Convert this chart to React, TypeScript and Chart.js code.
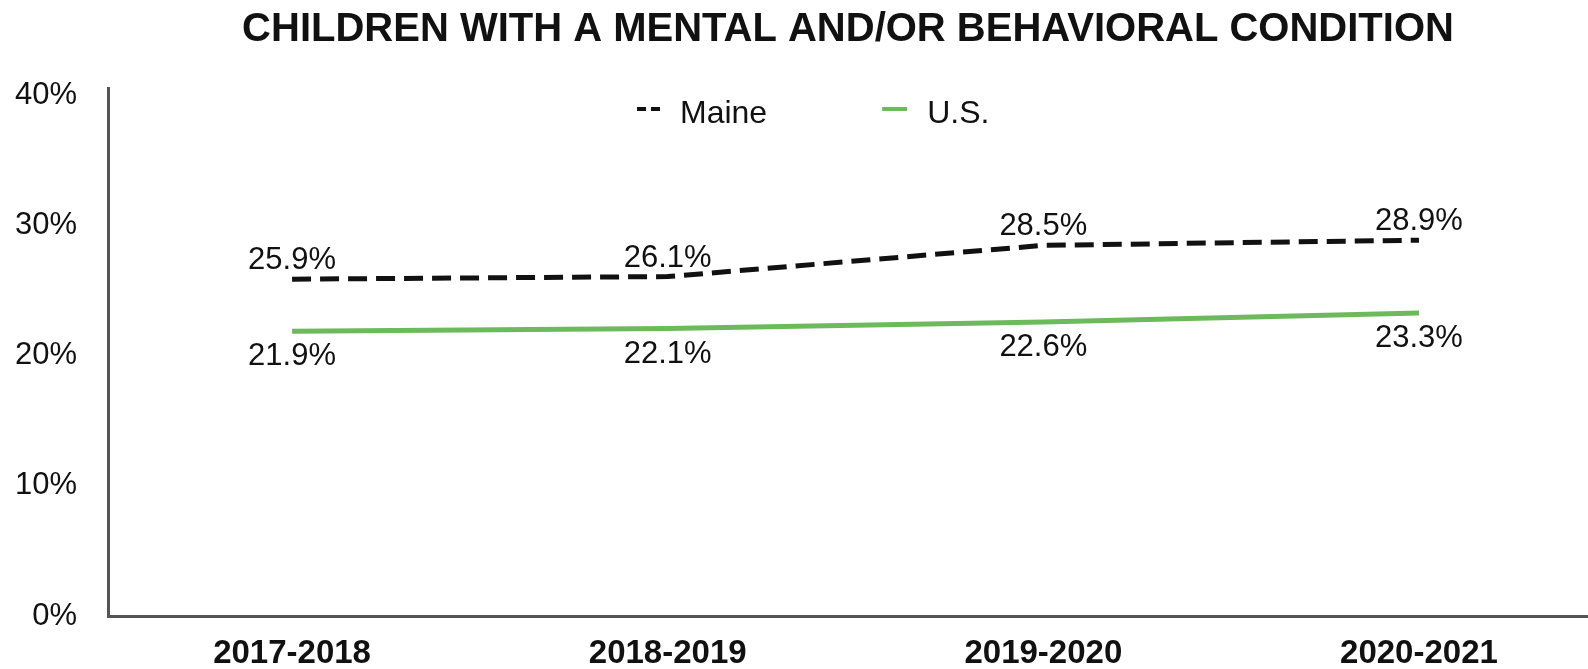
import { useEffect, useRef } from 'react';
import { Chart, registerables } from 'chart.js';

Chart.register(...registerables);

const categories = ['2017-2018', '2018-2019', '2019-2020', '2020-2021'];
const maineValues = [25.9, 26.1, 28.5, 28.9];
const usValues = [21.9, 22.1, 22.6, 23.3];
const yTickValues = [0, 10, 20, 30, 40];
const seriesNames = ['Maine', 'U.S.'];
const titleText = 'CHILDREN WITH A MENTAL AND/OR BEHAVIORAL CONDITION';

const BLACK = '#111111';
const GREEN = '#6cba5c';
const AXIS = '#555555';
const SANS = '"Liberation Sans", Arial, sans-serif';

const valueLabels = {
  id: 'valueLabels',
  afterDatasetsDraw(chart: any) {
    const ctx = chart.ctx;
    ctx.save();
    ctx.font = `31px ${SANS}`;
    ctx.fillStyle = BLACK;
    ctx.textAlign = 'center';
    ctx.textBaseline = 'alphabetic';
    chart.data.datasets.forEach((ds: any, di: number) => {
      const meta = chart.getDatasetMeta(di);
      const above = di === 0;
      meta.data.forEach((pt: any, i: number) => {
        const v = ds.data[i].y;
        ctx.fillText(v.toFixed(1) + '%', pt.x, above ? pt.y - 10 : pt.y + 34);
      });
    });
    ctx.restore();
  },
};

const inlineLegend = {
  id: 'inlineLegend',
  afterDraw(chart: any) {
    const { ctx, chartArea } = chart;
    ctx.save();
    ctx.font = `32px ${SANS}`;
    ctx.textBaseline = 'alphabetic';
    ctx.textAlign = 'left';
    const markerY = chartArea.top + 21;
    const baseY = chartArea.top + 35;
    let x = chartArea.left + 529;
    chart.data.datasets.forEach((ds: any, di: number) => {
      const w = di === 0 ? 23 : 25;
      ctx.beginPath();
      ctx.setLineDash(di === 0 ? [9, 5] : []);
      ctx.lineWidth = 4;
      ctx.strokeStyle = ds.borderColor;
      ctx.moveTo(x, markerY);
      ctx.lineTo(x + w, markerY);
      ctx.stroke();
      ctx.setLineDash([]);
      x += w + 20;
      ctx.fillStyle = BLACK;
      ctx.fillText(ds.label, x, baseY);
      x += ctx.measureText(ds.label).width + 115;
    });
    ctx.restore();
  },
};

export default function App() {
  const canvasRef = useRef<HTMLCanvasElement | null>(null);

  useEffect(() => {
    if (!canvasRef.current) return;
    const chart = new Chart(canvasRef.current, {
      type: 'line',
      data: {
        datasets: [
          {
            label: seriesNames[0],
            data: maineValues.map((y, i) => ({ x: i, y })),
            borderColor: BLACK,
            backgroundColor: BLACK,
            borderWidth: 5,
            borderDash: [19, 9],
            pointRadius: 0,
            tension: 0,
          },
          {
            label: seriesNames[1],
            data: usValues.map((y, i) => ({ x: i, y })),
            borderColor: GREEN,
            backgroundColor: GREEN,
            borderWidth: 5,
            pointRadius: 0,
            tension: 0,
          },
        ],
      },
      options: {
        animation: false,
        responsive: true,
        maintainAspectRatio: false,
        layout: { padding: 0 },
        plugins: {
          legend: { display: false },
          tooltip: { enabled: false },
          title: {
            display: true,
            text: titleText,
            fullSize: false,
            color: BLACK,
            font: { family: SANS, weight: 'bold', size: 40 },
            padding: { top: 6, bottom: 34 },
          },
        },
        scales: {
          x: {
            type: 'linear',
            min: -0.49,
            max: 3.45,
            grid: { display: false, drawTicks: false },
            border: { display: true, color: AXIS, width: 3 },
            afterBuildTicks: (s: any) => {
              s.ticks = categories.map((_, i) => ({ value: i }));
            },
            afterFit: (s: any) => {
              s.height = 53;
            },
            ticks: {
              callback: (v: any) => categories[v as number] ?? '',
              color: BLACK,
              font: { family: SANS, size: 33, weight: 'bold' },
              padding: 18,
              maxRotation: 0,
              autoSkip: false,
            },
          },
          y: {
            min: 0,
            max: 40.6,
            grid: { display: false, drawTicks: false },
            border: { display: true, color: AXIS, width: 3 },
            afterBuildTicks: (s: any) => {
              s.ticks = yTickValues.map((v) => ({ value: v }));
            },
            afterFit: (s: any) => {
              s.width = 108;
            },
            ticks: {
              callback: (v: any) => v + '%',
              color: BLACK,
              font: { family: SANS, size: 31 },
              padding: 31,
            },
          },
        },
      },
      plugins: [valueLabels, inlineLegend],
    } as any);
    return () => chart.destroy();
  }, []);

  return (
    <div style={{ position: 'absolute', left: 0, top: 0, width: 1588, height: 669 }}>
      <canvas ref={canvasRef} />
    </div>
  );
}
